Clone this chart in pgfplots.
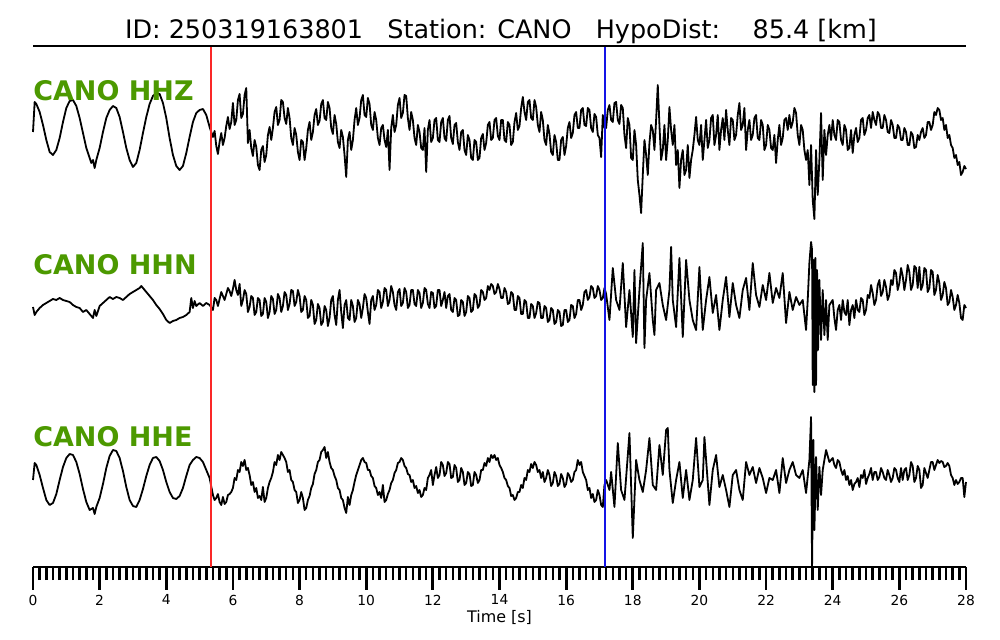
\documentclass[border=0pt]{standalone}
\usepackage{pgfplots}
\pgfplotsset{compat=1.18}
\usepackage{pgfplotstable}
\usepackage{fontspec}
\setmainfont{DejaVu Sans}
\definecolor{lblgreen}{RGB}{76,153,0}
\definecolor{pickred}{RGB}{250,40,40}
\definecolor{pickblue}{RGB}{20,20,230}

% HHZ trace (time [s], screen offset)
\pgfplotstableread[row sep=\\]{
t y\\
0 132\\ 0.05 102\\ 0.1 104\\ 0.2 112\\ 0.3 125\\ 0.4 140\\ 0.5 152\\ 0.6 155\\ 0.7 150\\ 0.8 138\\ 0.9 122\\
1.0 108\\ 1.1 101\\ 1.2 100\\ 1.3 106\\ 1.4 118\\ 1.5 133\\ 1.6 148\\ 1.7 158\\ 1.75 163\\ 1.8 160\\ 1.85 168\\ 1.9 160\\
2.0 148\\ 2.1 132\\ 2.2 118\\ 2.3 110\\ 2.4 106\\ 2.5 108\\ 2.6 117\\ 2.7 132\\ 2.8 148\\ 2.9 160\\
3.0 167\\ 3.1 163\\ 3.2 150\\ 3.3 133\\ 3.4 117\\ 3.5 104\\ 3.6 96\\ 3.7 93\\ 3.8 94\\ 3.9 103\\
4.0 118\\ 4.1 138\\ 4.2 155\\ 4.3 166\\ 4.4 170\\ 4.5 166\\ 4.6 153\\ 4.7 137\\ 4.8 122\\ 4.9 113\\
5.0 110\\ 5.1 109\\ 5.2 115\\ 5.3 127\\
5.4 137\\ 5.45 131\\ 5.5 146\\ 5.55 154\\ 5.6 142\\ 5.65 133\\ 5.7 145\\ 5.75 138\\ 5.8 126\\ 5.85 117\\ 5.9 129\\ 5.95 122\\
6.0 103\\ 6.05 125\\ 6.1 120\\ 6.15 100\\ 6.2 94\\ 6.25 118\\ 6.3 114\\ 6.35 95\\ 6.4 88\\ 6.45 143\\ 6.5 130\\ 6.55 148\\ 6.6 156\\ 6.65 140\\ 6.7 147\\ 6.75 165\\ 6.8 170\\ 6.85 150\\ 6.9 146\\ 6.95 162\\
7.0 155\\ 7.05 135\\ 7.1 127\\ 7.15 140\\ 7.2 128\\ 7.25 112\\ 7.3 107\\ 7.35 125\\ 7.4 120\\ 7.45 100\\ 7.5 102\\ 7.55 118\\ 7.6 124\\ 7.65 108\\ 7.7 118\\ 7.75 138\\ 7.8 145\\ 7.85 128\\ 7.9 135\\ 7.95 152\\
8.0 160\\ 8.05 140\\ 8.1 142\\ 8.15 160\\ 8.2 148\\ 8.25 130\\ 8.3 122\\ 8.35 140\\ 8.4 132\\ 8.45 115\\ 8.5 109\\ 8.55 125\\ 8.6 121\\ 8.65 104\\ 8.7 100\\ 8.75 118\\ 8.8 120\\ 8.85 102\\ 8.9 108\\ 8.95 128\\
9.0 134\\ 9.05 115\\ 9.1 124\\ 9.15 142\\ 9.2 148\\ 9.25 130\\ 9.3 137\\ 9.35 155\\ 9.4 177\\ 9.45 140\\ 9.5 132\\ 9.55 150\\ 9.6 140\\ 9.65 120\\ 9.7 108\\ 9.75 125\\ 9.8 118\\ 9.85 100\\ 9.9 95\\ 9.95 115\\
10.0 117\\ 10.05 98\\ 10.1 104\\ 10.15 125\\ 10.2 130\\ 10.25 112\\ 10.3 120\\ 10.35 138\\ 10.4 145\\ 10.45 128\\ 10.5 125\\ 10.55 140\\ 10.6 147\\ 10.65 130\\ 10.7 170\\ 10.75 128\\ 10.8 115\\ 10.85 132\\ 10.9 125\\ 10.95 105\\
11.0 98\\ 11.05 118\\ 11.1 113\\ 11.15 95\\ 11.2 96\\ 11.25 118\\ 11.3 130\\ 11.35 112\\ 11.4 120\\ 11.45 138\\ 11.5 145\\ 11.55 125\\ 11.6 132\\ 11.65 148\\ 11.7 150\\ 11.75 128\\ 11.8 172\\ 11.85 130\\ 11.9 120\\ 11.95 142\\
12.0 138\\ 12.05 120\\ 12.1 118\\ 12.15 140\\ 12.2 142\\ 12.25 122\\ 12.3 118\\ 12.35 138\\ 12.4 141\\ 12.45 120\\ 12.5 116\\ 12.55 138\\ 12.6 144\\ 12.65 125\\ 12.7 123\\ 12.75 142\\ 12.8 150\\ 12.85 132\\ 12.9 130\\ 12.95 150\\
13.0 155\\ 13.05 135\\ 13.1 140\\ 13.15 158\\ 13.2 160\\ 13.25 140\\ 13.3 142\\ 13.35 160\\ 13.4 158\\ 13.45 138\\ 13.5 134\\ 13.55 150\\ 13.6 143\\ 13.65 125\\ 13.7 122\\ 13.75 140\\ 13.8 138\\ 13.85 120\\ 13.9 118\\ 13.95 136\\
14.0 140\\ 14.05 120\\ 14.1 120\\ 14.15 140\\ 14.2 142\\ 14.25 122\\ 14.3 125\\ 14.35 145\\ 14.4 142\\ 14.45 122\\ 14.5 113\\ 14.55 130\\ 14.6 126\\ 14.65 108\\ 14.7 97\\ 14.75 112\\ 14.8 120\\ 14.85 102\\ 14.9 100\\ 14.95 118\\
15.0 120\\ 15.05 100\\ 15.1 107\\ 15.15 125\\ 15.2 132\\ 15.25 112\\ 15.3 120\\ 15.35 140\\ 15.4 145\\ 15.45 125\\ 15.5 134\\ 15.55 152\\ 15.6 155\\ 15.65 135\\ 15.7 142\\ 15.75 160\\ 15.8 160\\ 15.85 140\\ 15.9 137\\ 15.95 155\\
16.0 146\\ 16.05 128\\ 16.1 122\\ 16.15 138\\ 16.2 133\\ 16.25 115\\ 16.3 112\\ 16.35 128\\ 16.4 128\\ 16.45 110\\ 16.5 108\\ 16.55 125\\ 16.6 126\\ 16.65 108\\ 16.7 110\\ 16.75 128\\ 16.8 132\\ 16.85 114\\ 16.9 117\\ 16.95 135\\
17.0 138\\ 17.05 157\\ 17.1 115\\ 17.15 128\\ 17.2 128\\ 17.25 110\\ 17.3 105\\ 17.35 120\\ 17.4 122\\ 17.45 103\\ 17.5 102\\ 17.55 120\\ 17.6 124\\ 17.65 105\\ 17.7 108\\ 17.75 135\\ 17.8 148\\ 17.85 118\\ 17.9 125\\ 17.95 158\\
18.0 160\\ 18.05 130\\ 18.1 145\\ 18.15 180\\ 18.2 195\\ 18.25 213\\ 18.3 175\\ 18.35 140\\ 18.4 155\\ 18.45 175\\ 18.5 143\\ 18.55 125\\ 18.6 130\\ 18.65 150\\ 18.7 120\\ 18.75 85\\ 18.8 125\\ 18.85 160\\ 18.9 150\\ 18.95 125\\
19.0 160\\ 19.05 140\\ 19.1 107\\ 19.15 130\\ 19.2 145\\ 19.25 125\\ 19.3 165\\ 19.35 150\\ 19.4 188\\ 19.45 160\\ 19.5 150\\ 19.55 175\\ 19.6 170\\ 19.65 145\\ 19.7 178\\ 19.75 160\\ 19.8 150\\ 19.85 135\\ 19.9 117\\ 19.95 140\\
20.0 145\\ 20.05 125\\ 20.1 160\\ 20.15 140\\ 20.2 120\\ 20.25 148\\ 20.3 140\\ 20.35 118\\ 20.4 115\\ 20.45 145\\ 20.5 135\\ 20.55 115\\ 20.6 150\\ 20.65 130\\ 20.7 118\\ 20.75 140\\ 20.8 110\\ 20.85 130\\ 20.9 145\\ 20.95 118\\
21.0 120\\ 21.05 140\\ 21.1 135\\ 21.15 115\\ 21.2 103\\ 21.25 130\\ 21.3 125\\ 21.35 108\\ 21.4 150\\ 21.45 130\\ 21.5 120\\ 21.55 140\\ 21.6 135\\ 21.65 118\\ 21.7 115\\ 21.75 138\\ 21.8 140\\ 21.85 120\\ 21.9 125\\ 21.95 150\\
22.0 145\\ 22.05 125\\ 22.1 130\\ 22.15 148\\ 22.2 150\\ 22.25 135\\ 22.3 163\\ 22.35 140\\ 22.4 125\\ 22.45 145\\ 22.5 138\\ 22.55 120\\ 22.6 118\\ 22.65 130\\ 22.7 115\\ 22.75 128\\ 22.8 122\\ 22.85 108\\ 22.9 113\\ 22.95 135\\
23.0 145\\ 23.05 125\\ 23.1 130\\ 23.15 150\\ 23.2 160\\ 23.25 150\\ 23.3 185\\ 23.35 145\\ 23.4 200\\ 23.45 219\\ 23.5 150\\ 23.55 195\\ 23.6 160\\ 23.65 113\\ 23.7 180\\ 23.75 130\\ 23.8 155\\ 23.85 135\\ 23.9 125\\ 23.95 140\\
24.0 120\\ 24.05 135\\ 24.1 140\\ 24.15 120\\ 24.2 122\\ 24.25 140\\ 24.3 145\\ 24.35 125\\ 24.4 130\\ 24.45 150\\ 24.5 148\\ 24.55 130\\ 24.6 153\\ 24.65 135\\ 24.7 128\\ 24.75 142\\ 24.8 138\\ 24.85 120\\ 24.9 118\\ 24.95 135\\
25.0 130\\ 25.05 118\\ 25.1 115\\ 25.15 128\\ 25.2 112\\ 25.25 120\\ 25.3 125\\ 25.35 112\\ 25.4 115\\ 25.45 128\\ 25.5 128\\ 25.55 115\\ 25.6 120\\ 25.65 132\\ 25.7 133\\ 25.75 120\\ 25.8 125\\ 25.85 138\\ 25.9 138\\ 25.95 125\\
26.0 128\\ 26.05 140\\ 26.1 140\\ 26.15 128\\ 26.2 132\\ 26.25 145\\ 26.3 145\\ 26.35 132\\ 26.4 135\\ 26.45 148\\ 26.5 147\\ 26.55 135\\ 26.6 140\\ 26.65 132\\ 26.7 128\\ 26.75 138\\ 26.8 135\\ 26.85 122\\ 26.9 122\\ 26.95 130\\
27.0 125\\ 27.05 112\\ 27.1 115\\ 27.15 108\\ 27.2 110\\ 27.25 120\\ 27.3 118\\ 27.35 130\\ 27.4 125\\ 27.45 138\\ 27.5 135\\ 27.55 145\\ 27.6 148\\ 27.65 158\\ 27.7 155\\ 27.75 165\\ 27.8 162\\ 27.85 175\\ 27.9 172\\ 27.95 166\\ 28.0 169\\
}\hhz

% HHN trace
\pgfplotstableread[row sep=\\]{
t y\\
0 307\\ 0.05 315\\ 0.1 312\\ 0.2 308\\ 0.3 305\\ 0.4 303\\ 0.5 301\\ 0.6 299\\ 0.7 300\\ 0.8 298\\ 0.9 300\\
1.0 301\\ 1.1 302\\ 1.2 305\\ 1.3 307\\ 1.4 308\\ 1.5 312\\ 1.6 310\\ 1.7 314\\ 1.8 318\\ 1.85 310\\ 1.9 316\\
2.0 306\\ 2.1 303\\ 2.2 300\\ 2.3 297\\ 2.4 299\\ 2.5 297\\ 2.6 298\\ 2.7 300\\ 2.8 297\\ 2.9 294\\
3.0 292\\ 3.1 290\\ 3.2 288\\ 3.25 286\\ 3.3 288\\ 3.4 292\\ 3.5 296\\ 3.6 300\\ 3.7 305\\ 3.8 309\\ 3.9 314\\
4.0 320\\ 4.1 323\\ 4.2 321\\ 4.3 320\\ 4.4 318\\ 4.5 317\\ 4.6 315\\ 4.7 312\\ 4.75 298\\ 4.8 308\\ 4.85 301\\ 4.9 306\\
5.0 303\\ 5.1 306\\ 5.2 303\\ 5.3 305\\
5.4 310\\ 5.45 298\\ 5.5 300\\ 5.55 306\\ 5.6 299\\ 5.65 292\\ 5.7 296\\ 5.75 300\\ 5.8 294\\ 5.85 288\\ 5.9 291\\ 5.95 296\\
6.0 289\\ 6.05 280\\ 6.1 290\\ 6.15 295\\ 6.2 284\\ 6.25 306\\ 6.3 300\\ 6.35 290\\ 6.4 294\\ 6.45 312\\ 6.5 307\\ 6.55 296\\ 6.6 298\\ 6.65 315\\ 6.7 312\\ 6.75 298\\ 6.8 300\\ 6.85 316\\ 6.9 314\\ 6.95 298\\
7.0 302\\ 7.05 318\\ 7.1 312\\ 7.15 296\\ 7.2 299\\ 7.25 314\\ 7.3 310\\ 7.35 294\\ 7.4 298\\ 7.45 312\\ 7.5 306\\ 7.55 292\\ 7.6 295\\ 7.65 310\\ 7.7 304\\ 7.75 290\\ 7.8 291\\ 7.85 306\\ 7.9 302\\ 7.95 290\\
8.0 296\\ 8.05 312\\ 8.1 310\\ 8.15 296\\ 8.2 300\\ 8.25 318\\ 8.3 316\\ 8.35 300\\ 8.4 305\\ 8.45 324\\ 8.5 320\\ 8.55 304\\ 8.6 308\\ 8.65 325\\ 8.7 322\\ 8.75 306\\ 8.8 310\\ 8.85 326\\ 8.9 318\\ 8.95 300\\
9.0 296\\ 9.05 315\\ 9.1 325\\ 9.15 300\\ 9.2 290\\ 9.25 312\\ 9.3 328\\ 9.35 305\\ 9.4 300\\ 9.45 318\\ 9.5 320\\ 9.55 300\\ 9.6 306\\ 9.65 322\\ 9.7 318\\ 9.75 300\\ 9.8 304\\ 9.85 318\\ 9.9 308\\ 9.95 294\\
10.0 298\\ 10.05 312\\ 10.1 324\\ 10.15 300\\ 10.2 296\\ 10.25 310\\ 10.3 305\\ 10.35 290\\ 10.4 292\\ 10.45 308\\ 10.5 302\\ 10.55 288\\ 10.6 290\\ 10.65 306\\ 10.7 300\\ 10.75 286\\ 10.8 292\\ 10.85 305\\ 10.9 310\\ 10.95 292\\
11.0 289\\ 11.05 306\\ 11.1 303\\ 11.15 288\\ 11.2 292\\ 11.25 308\\ 11.3 305\\ 11.35 290\\ 11.4 290\\ 11.45 304\\ 11.5 306\\ 11.55 290\\ 11.6 293\\ 11.65 308\\ 11.7 303\\ 11.75 288\\ 11.8 290\\ 11.85 304\\ 11.9 308\\ 11.95 292\\
12.0 293\\ 12.05 308\\ 12.1 306\\ 12.15 290\\ 12.2 290\\ 12.25 306\\ 12.3 300\\ 12.35 292\\ 12.4 308\\ 12.45 296\\ 12.5 294\\ 12.55 310\\ 12.6 312\\ 12.65 298\\ 12.7 300\\ 12.75 316\\ 12.8 315\\ 12.85 300\\ 12.9 302\\ 12.95 316\\
13.0 312\\ 13.05 296\\ 13.1 298\\ 13.15 312\\ 13.2 310\\ 13.25 294\\ 13.3 296\\ 13.35 308\\ 13.4 305\\ 13.45 290\\ 13.5 292\\ 13.55 300\\ 13.6 298\\ 13.65 286\\ 13.7 290\\ 13.75 284\\ 13.8 286\\ 13.85 294\\ 13.9 292\\ 13.95 284\\
14.0 289\\ 14.05 298\\ 14.1 298\\ 14.15 288\\ 14.2 292\\ 14.25 304\\ 14.3 303\\ 14.35 292\\ 14.4 294\\ 14.45 310\\ 14.5 310\\ 14.55 296\\ 14.6 298\\ 14.65 314\\ 14.7 314\\ 14.75 300\\ 14.8 302\\ 14.85 318\\ 14.9 318\\ 14.95 304\\
15.0 306\\ 15.05 318\\ 15.1 313\\ 15.15 302\\ 15.2 303\\ 15.25 318\\ 15.3 318\\ 15.35 306\\ 15.4 308\\ 15.45 322\\ 15.5 320\\ 15.55 308\\ 15.6 310\\ 15.65 324\\ 15.7 322\\ 15.75 310\\ 15.8 312\\ 15.85 326\\ 15.9 325\\ 15.95 310\\
16.0 310\\ 16.05 322\\ 16.1 320\\ 16.15 305\\ 16.2 306\\ 16.25 318\\ 16.3 314\\ 16.35 300\\ 16.4 300\\ 16.45 310\\ 16.5 305\\ 16.55 292\\ 16.6 290\\ 16.65 300\\ 16.7 297\\ 16.75 286\\ 16.8 288\\ 16.85 298\\ 16.9 296\\ 16.95 286\\
17.0 290\\ 17.05 300\\ 17.1 298\\ 17.15 288\\ 17.2 294\\ 17.3 320\\ 17.4 268\\ 17.5 300\\ 17.6 310\\ 17.7 263\\ 17.8 327\\ 17.9 290\\
18.0 337\\ 18.05 270\\ 18.1 343\\ 18.2 290\\ 18.3 243\\ 18.35 348\\ 18.4 300\\ 18.5 273\\ 18.6 320\\ 18.65 335\\ 18.7 290\\
18.8 283\\ 18.9 305\\ 19.0 320\\ 19.1 290\\ 19.15 247\\ 19.2 300\\ 19.3 327\\ 19.4 258\\ 19.5 337\\ 19.6 260\\ 19.7 300\\ 19.8 320\\ 19.9 330\\
20.0 267\\ 20.1 330\\ 20.2 300\\ 20.3 277\\ 20.4 313\\ 20.5 295\\ 20.6 330\\ 20.7 300\\ 20.8 277\\ 20.9 317\\
21.0 283\\ 21.1 305\\ 21.2 318\\ 21.3 290\\ 21.4 278\\ 21.5 310\\ 21.6 263\\ 21.7 295\\ 21.8 307\\ 21.9 285\\
22.0 300\\ 22.1 273\\ 22.2 303\\ 22.3 288\\ 22.4 298\\ 22.5 273\\ 22.6 323\\ 22.7 292\\ 22.8 310\\ 22.9 297\\
23.0 305\\ 23.1 300\\ 23.2 330\\ 23.25 300\\ 23.3 263\\ 23.35 242\\ 23.38 250\\ 23.4 385\\ 23.43 260\\ 23.45 392\\ 23.48 258\\ 23.5 385\\ 23.53 270\\ 23.56 350\\ 23.6 280\\ 23.65 340\\ 23.7 290\\ 23.75 335\\ 23.8 300\\ 23.85 340\\ 23.9 305\\
24.0 300\\ 24.05 318\\ 24.1 330\\ 24.15 310\\ 24.2 305\\ 24.25 320\\ 24.3 300\\ 24.35 312\\ 24.4 315\\ 24.45 300\\ 24.5 325\\ 24.55 310\\ 24.6 305\\ 24.65 318\\ 24.7 300\\ 24.75 310\\ 24.8 312\\ 24.85 298\\ 24.9 300\\ 24.95 315\\
25.0 310\\ 25.05 295\\ 25.1 298\\ 25.15 285\\ 25.2 293\\ 25.25 305\\ 25.3 300\\ 25.35 285\\ 25.4 280\\ 25.45 296\\ 25.5 292\\ 25.55 280\\ 25.6 287\\ 25.65 300\\ 25.7 295\\ 25.75 280\\ 25.8 285\\ 25.85 270\\ 25.9 273\\ 25.95 290\\
26.0 283\\ 26.05 268\\ 26.1 276\\ 26.15 290\\ 26.2 280\\ 26.25 265\\ 26.3 272\\ 26.35 290\\ 26.4 285\\ 26.45 266\\ 26.5 268\\ 26.55 288\\ 26.6 267\\ 26.65 290\\ 26.7 285\\ 26.75 268\\ 26.8 270\\ 26.85 292\\ 26.9 288\\ 26.95 270\\
27.0 272\\ 27.05 295\\ 27.1 290\\ 27.15 275\\ 27.2 283\\ 27.25 300\\ 27.3 295\\ 27.35 282\\ 27.4 288\\ 27.45 305\\ 27.5 302\\ 27.55 290\\ 27.6 297\\ 27.65 310\\ 27.7 305\\ 27.75 295\\ 27.8 303\\ 27.85 318\\ 27.9 320\\ 27.95 305\\ 28.0 308\\
}\hhn

% HHE trace
\pgfplotstableread[row sep=\\]{
t y\\
0 480\\ 0.05 463\\ 0.1 465\\ 0.2 475\\ 0.3 488\\ 0.4 500\\ 0.5 505\\ 0.6 503\\ 0.7 494\\ 0.8 480\\ 0.9 467\\
1.0 458\\ 1.1 454\\ 1.2 455\\ 1.3 462\\ 1.4 474\\ 1.5 489\\ 1.6 502\\ 1.7 510\\ 1.8 508\\ 1.85 514\\ 1.9 507\\
2.0 498\\ 2.1 484\\ 2.2 468\\ 2.3 456\\ 2.4 450\\ 2.5 451\\ 2.6 458\\ 2.7 471\\ 2.8 487\\ 2.9 500\\
3.0 506\\ 3.1 507\\ 3.2 500\\ 3.3 489\\ 3.4 476\\ 3.5 465\\ 3.6 458\\ 3.7 457\\ 3.8 461\\ 3.9 470\\
4.0 482\\ 4.1 492\\ 4.2 498\\ 4.3 499\\ 4.4 496\\ 4.5 488\\ 4.6 476\\ 4.7 465\\ 4.8 460\\ 4.9 457\\
5.0 458\\ 5.1 462\\ 5.2 470\\ 5.3 478\\
5.4 495\\ 5.45 500\\ 5.5 498\\ 5.55 494\\ 5.6 502\\ 5.65 505\\ 5.7 497\\ 5.75 504\\ 5.8 502\\ 5.85 495\\ 5.9 494\\ 5.95 492\\
6.0 488\\ 6.05 478\\ 6.1 480\\ 6.15 470\\ 6.2 472\\ 6.25 462\\ 6.3 466\\ 6.35 460\\ 6.4 470\\ 6.45 468\\ 6.5 475\\ 6.55 485\\ 6.6 482\\ 6.65 492\\ 6.7 488\\ 6.75 498\\ 6.8 496\\ 6.85 500\\ 6.9 487\\ 6.95 502\\
7.0 498\\ 7.05 488\\ 7.1 482\\ 7.15 478\\ 7.2 472\\ 7.25 462\\ 7.3 465\\ 7.35 455\\ 7.4 460\\ 7.45 452\\ 7.5 455\\ 7.55 458\\ 7.6 462\\ 7.65 472\\ 7.7 470\\ 7.75 480\\ 7.8 482\\ 7.85 490\\ 7.9 492\\ 7.95 503\\
8.0 500\\ 8.05 492\\ 8.1 498\\ 8.15 510\\ 8.2 508\\ 8.25 500\\ 8.3 496\\ 8.35 488\\ 8.4 484\\ 8.45 474\\ 8.5 470\\ 8.55 462\\ 8.6 460\\ 8.65 452\\ 8.7 450\\ 8.75 447\\ 8.8 458\\ 8.85 452\\ 8.9 462\\ 8.95 468\\
9.0 470\\ 9.05 476\\ 9.1 480\\ 9.15 488\\ 9.2 490\\ 9.25 498\\ 9.3 500\\ 9.35 508\\ 9.4 513\\ 9.45 497\\ 9.5 505\\ 9.55 495\\ 9.6 490\\ 9.65 482\\ 9.7 475\\ 9.75 470\\ 9.8 465\\ 9.85 460\\ 9.9 458\\ 9.95 462\\
10.0 463\\ 10.05 470\\ 10.1 470\\ 10.15 476\\ 10.2 478\\ 10.25 486\\ 10.3 488\\ 10.35 495\\ 10.4 492\\ 10.45 498\\ 10.5 485\\ 10.55 502\\ 10.6 500\\ 10.65 494\\ 10.7 490\\ 10.75 483\\ 10.8 480\\ 10.85 473\\ 10.9 470\\ 10.95 463\\
11.0 462\\ 11.05 458\\ 11.1 460\\ 11.15 466\\ 11.2 468\\ 11.25 474\\ 11.3 475\\ 11.35 482\\ 11.4 480\\ 11.45 488\\ 11.5 486\\ 11.55 493\\ 11.6 490\\ 11.65 497\\ 11.7 495\\ 11.75 488\\ 11.8 490\\ 11.85 478\\ 11.9 475\\ 11.95 470\\
12.0 485\\ 12.05 475\\ 12.1 467\\ 12.15 478\\ 12.2 475\\ 12.25 462\\ 12.3 465\\ 12.35 476\\ 12.4 473\\ 12.45 462\\ 12.5 464\\ 12.55 478\\ 12.6 477\\ 12.65 465\\ 12.7 468\\ 12.75 482\\ 12.8 480\\ 12.85 468\\ 12.9 472\\ 12.95 485\\
13.0 483\\ 13.05 472\\ 13.1 474\\ 13.15 486\\ 13.2 485\\ 13.25 472\\ 13.3 475\\ 13.35 483\\ 13.4 480\\ 13.45 470\\ 13.5 470\\ 13.55 463\\ 13.6 466\\ 13.65 458\\ 13.7 462\\ 13.75 455\\ 13.8 458\\ 13.85 455\\ 13.9 460\\ 13.95 458\\
14.0 465\\ 14.05 468\\ 14.1 472\\ 14.15 478\\ 14.2 480\\ 14.25 486\\ 14.3 488\\ 14.35 496\\ 14.4 495\\ 14.45 500\\ 14.5 498\\ 14.55 492\\ 14.6 492\\ 14.65 485\\ 14.7 488\\ 14.75 478\\ 14.8 480\\ 14.85 470\\ 14.9 472\\ 14.95 464\\
15.0 468\\ 15.05 462\\ 15.1 465\\ 15.15 472\\ 15.2 470\\ 15.25 478\\ 15.3 472\\ 15.35 482\\ 15.4 478\\ 15.45 470\\ 15.5 475\\ 15.55 486\\ 15.6 483\\ 15.65 472\\ 15.7 476\\ 15.75 486\\ 15.8 484\\ 15.85 474\\ 15.9 478\\ 15.95 487\\
16.0 484\\ 16.05 473\\ 16.1 476\\ 16.15 482\\ 16.2 480\\ 16.25 472\\ 16.3 470\\ 16.35 460\\ 16.4 465\\ 16.45 462\\ 16.5 472\\ 16.55 476\\ 16.6 480\\ 16.65 490\\ 16.7 488\\ 16.75 498\\ 16.8 494\\ 16.85 502\\ 16.9 500\\ 16.95 490\\
17.0 495\\ 17.05 505\\ 17.1 507\\ 17.15 485\\ 17.2 480\\ 17.3 490\\ 17.35 472\\ 17.45 507\\ 17.55 443\\ 17.65 490\\ 17.75 500\\ 17.9 433\\
18.0 538\\ 18.1 460\\ 18.2 480\\ 18.3 492\\ 18.4 470\\ 18.5 438\\ 18.6 485\\ 18.7 490\\ 18.8 445\\ 18.9 475\\
19.0 430\\ 19.05 428\\ 19.1 470\\ 19.2 503\\ 19.3 480\\ 19.4 462\\ 19.5 498\\ 19.6 470\\ 19.7 500\\ 19.8 480\\ 19.9 438\\
20.0 487\\ 20.1 480\\ 20.15 437\\ 20.3 505\\ 20.4 470\\ 20.5 455\\ 20.6 487\\ 20.7 475\\ 20.8 490\\ 20.9 507\\
21.0 475\\ 21.1 470\\ 21.2 490\\ 21.3 500\\ 21.4 462\\ 21.5 475\\ 21.6 467\\ 21.7 483\\ 21.8 468\\ 21.9 478\\
22.0 493\\ 22.1 478\\ 22.2 480\\ 22.3 470\\ 22.4 493\\ 22.5 458\\ 22.6 483\\ 22.7 470\\ 22.8 462\\ 22.9 475\\
23.0 478\\ 23.1 470\\ 23.2 493\\ 23.3 460\\ 23.35 417\\ 23.38 567\\ 23.42 440\\ 23.45 530\\ 23.5 457\\ 23.55 510\\ 23.6 467\\ 23.65 495\\ 23.7 470\\ 23.8 450\\ 23.9 462\\
24.0 458\\ 24.05 465\\ 24.1 468\\ 24.15 460\\ 24.2 462\\ 24.25 470\\ 24.3 475\\ 24.35 470\\ 24.4 480\\ 24.45 476\\ 24.5 485\\ 24.55 480\\ 24.6 490\\ 24.65 484\\ 24.7 482\\ 24.75 478\\ 24.8 487\\ 24.85 475\\ 24.9 478\\ 24.95 470\\
25.0 484\\ 25.05 478\\ 25.1 474\\ 25.15 468\\ 25.2 480\\ 25.25 472\\ 25.3 472\\ 25.35 480\\ 25.4 477\\ 25.45 468\\ 25.5 472\\ 25.55 478\\ 25.6 480\\ 25.65 470\\ 25.7 475\\ 25.75 482\\ 25.8 478\\ 25.85 468\\ 25.9 470\\ 25.95 478\\
26.0 482\\ 26.05 468\\ 26.1 480\\ 26.15 470\\ 26.2 468\\ 26.25 480\\ 26.3 475\\ 26.35 462\\ 26.4 466\\ 26.45 482\\ 26.5 478\\ 26.55 466\\ 26.6 470\\ 26.65 488\\ 26.7 485\\ 26.75 468\\ 26.8 473\\ 26.85 478\\ 26.9 470\\ 26.95 462\\
27.0 462\\ 27.05 470\\ 27.1 465\\ 27.15 460\\ 27.2 463\\ 27.25 461\\ 27.3 462\\ 27.35 467\\ 27.4 466\\ 27.45 463\\ 27.5 466\\ 27.55 475\\ 27.6 478\\ 27.65 485\\ 27.7 480\\ 27.75 484\\ 27.8 482\\ 27.85 478\\ 27.9 478\\ 27.95 497\\ 28.0 482\\
}\hhe

\begin{document}
\begin{tikzpicture}
\useasboundingbox (0,0) rectangle (720bp,460.8bp);
\begin{axis}[
  at={(23.76bp,52.56bp)}, anchor=south west,
  scale only axis, width=671.76bp, height=375.12bp,
  xmin=0, xmax=28, ymin=-567, ymax=-46,
  clip=false,
  axis x line*=bottom, axis y line=none,
  x axis line style={line width=1.4bp},
  xtick distance=2, minor x tick num=9,
  tick align=outside,
  major tick length=16.5bp, minor tick length=9.4bp,
  major tick style={line width=2bp, black},
  minor tick style={line width=1.8bp, black},
  ytick=\empty,
  /pgf/number format/assume math mode=true,
  ticklabel style={font=\fontsize{10}{12}\selectfont},
  every axis plot/.append style={line join=round},
]
\addplot[black, line width=1.3bp] table[x=t, y expr=-\thisrow{y}] {\hhz};
\addplot[black, line width=1.3bp] table[x=t, y expr=-\thisrow{y}] {\hhn};
\addplot[black, line width=1.3bp] table[x=t, y expr=-\thisrow{y}] {\hhe};
\addplot[draw=pickred, line width=1.3bp] coordinates {(5.35,-46) (5.35,-567)};
\addplot[draw=pickblue, line width=1.2bp] coordinates {(17.17,-46) (17.17,-567)};
\draw[black, line width=1.1bp] (axis cs:0,-46) -- (axis cs:28,-46);
\end{axis}
\node[anchor=base west, inner sep=0pt, text=lblgreen, font=\fontsize{19.5}{22}\selectfont\bfseries] at (23.76bp,388.3bp) {CANO HHZ};
\node[anchor=base west, inner sep=0pt, text=lblgreen, font=\fontsize{19.5}{22}\selectfont\bfseries] at (23.76bp,263.5bp) {CANO HHN};
\node[anchor=base west, inner sep=0pt, text=lblgreen, font=\fontsize{19.5}{22}\selectfont\bfseries] at (23.76bp,139.0bp) {CANO HHE};
\node[anchor=base, inner sep=0pt, font=\fontsize{18.4}{21}\selectfont] at (360.7bp,433.4bp) {ID: 250319163801\ \ \ Station: CANO\ \ \ HypoDist:\ \ \ \ 85.4 [km]};
\node[anchor=base, inner sep=0pt, font=\fontsize{11.5}{14}\selectfont] at (359.6bp,12.6bp) {Time [s]};
\end{tikzpicture}
\end{document}
